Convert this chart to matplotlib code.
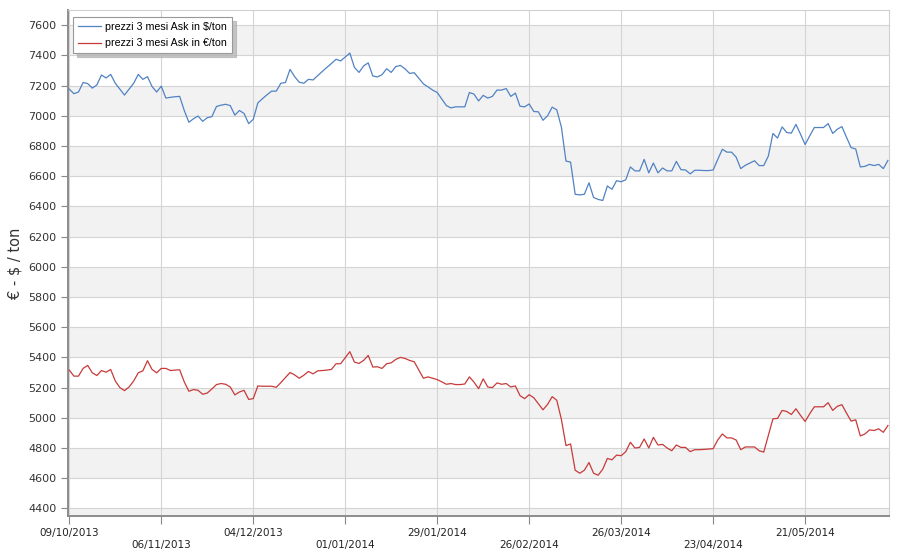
import matplotlib
matplotlib.use('Agg')
import matplotlib.pyplot as plt
import numpy as np
import pandas as pd

# prezzi 3 mesi Ask, one value per working day from 09/10/2013
usd = [7176, 7146, 7157, 7220, 7213, 7183, 7204, 7270, 7250, 7274, 7215, 7176, 7137, 7176, 7215, 7274, 7241, 7259, 7193, 7157,
       7196, 7117, 7122, 7126, 7128, 7035, 6957, 6980, 6998, 6963, 6987, 6994, 7061, 7070, 7076, 7067, 7004,
       7035, 7015, 6948, 6976, 7085, 7113, 7139, 7163, 7163, 7215, 7220, 7307, 7259, 7222, 7215, 7241, 7237, 7265,
       7293, 7320, 7346, 7374, 7363, 7389, 7415, 7320, 7287, 7330, 7350, 7263, 7257, 7272, 7311, 7287, 7326,
       7333, 7311, 7280, 7285, 7248, 7211, 7191, 7170, 7154, 7111, 7067, 7052, 7059, 7059, 7059, 7154, 7143, 7098,
       7135, 7117, 7128, 7170, 7170, 7180, 7128, 7150, 7063, 7059, 7078, 7028, 7026, 6970, 7000, 7057, 7039, 6925,
       6700, 6693, 6480, 6476, 6480, 6556, 6459, 6446, 6439, 6535, 6513, 6570, 6563, 6576, 6661, 6635, 6635, 6711,
       6622, 6687, 6622, 6654, 6635, 6635, 6698, 6643, 6641, 6615, 6639, 6639, 6637, 6637, 6641, 6711, 6778, 6759,
       6759, 6726, 6650, 6672, 6687, 6702, 6670, 6670, 6733, 6883, 6852, 6926, 6889, 6885, 6943, 6878, 6809, 6867,
       6922, 6922, 6922, 6948, 6883, 6911, 6928, 6857, 6789, 6780, 6661, 6665, 6678, 6670, 6678, 6650, 6704]

eur = [5316, 5276, 5276, 5327, 5347, 5298, 5280, 5313, 5302, 5320, 5244, 5200, 5180, 5204, 5244, 5298, 5311, 5378, 5320, 5298,
       5327, 5327, 5313, 5316, 5318, 5238, 5176, 5187, 5182, 5156, 5164, 5191, 5220, 5227, 5222, 5204, 5152,
       5171, 5182, 5122, 5127, 5211, 5209, 5209, 5209, 5202, 5233, 5267, 5300, 5284, 5262, 5282, 5307, 5291, 5311,
       5313, 5316, 5320, 5358, 5358, 5398, 5438, 5369, 5360, 5380, 5413, 5336, 5338, 5327, 5358, 5364, 5387,
       5400, 5393, 5380, 5371, 5316, 5262, 5271, 5262, 5253, 5238, 5222, 5227, 5220, 5220, 5224, 5271, 5236, 5193,
       5258, 5204, 5200, 5231, 5222, 5227, 5204, 5211, 5147, 5127, 5153, 5133, 5093, 5053, 5089, 5140, 5116, 4990,
       4816, 4827, 4653, 4633, 4653, 4704, 4633, 4620, 4660, 4731, 4722, 4753, 4749, 4776, 4838, 4800, 4804, 4860,
       4800, 4871, 4820, 4824, 4800, 4782, 4820, 4804, 4804, 4776, 4789, 4789, 4791, 4793, 4796, 4853, 4893, 4867,
       4867, 4853, 4789, 4807, 4807, 4807, 4782, 4773, 4882, 4993, 4996, 5049, 5042, 5022, 5060, 5016, 4976, 5027,
       5073, 5073, 5073, 5100, 5049, 5076, 5087, 5031, 4978, 4987, 4880, 4893, 4920, 4916, 4927, 4904, 4949]

dates = pd.bdate_range('2013-10-09', periods=len(usd))
label_usd = 'prezzi 3 mesi Ask in $/ton'
label_eur = 'prezzi 3 mesi Ask in €/ton'
y_ticks = np.arange(4400, 7601, 200)

plt.rcParams['font.family'] = ['DejaVu Sans']
fig = plt.figure(figsize=(9, 5.6), dpi=100)
ax = fig.add_axes([0.0752, 0.0786, 0.9129, 0.9035])

x = np.arange(len(usd))

# alternating grey bands
for lo in np.arange(4200, 7600, 400):
    ax.axhspan(lo, lo + 200, color='#f2f2f2', zorder=0, lw=0)

ax.plot(x, usd, color='#5082c4', lw=0.9, label=label_usd, zorder=3)
ax.plot(x, eur, color='#c83a3a', lw=0.9, label=label_eur, zorder=3)

ax.set_ylim(4350, 7700)
ax.set_xlim(-0.35, 178.3)
ax.set_yticks(y_ticks)
ax.set_yticklabels([str(v) for v in y_ticks])

xt = x[::20]
xl = []
for k, i in enumerate(xt):
    s = dates[i].strftime('%d/%m/%Y')
    if k % 2 == 1:
        s = '\n' + s
    xl.append(s)
ax.set_xticks(xt)
ax.set_xticklabels(xl)

ax.grid(True, color='#d4d4d4', lw=0.8, zorder=1)
ax.set_axisbelow(True)

ax.tick_params(axis='y', length=5, width=0.8, color='#888888', labelsize=8, labelcolor='#333333', pad=3)
ax.tick_params(axis='x', length=6, width=0.8, color='#888888', labelsize=7.5, labelcolor='#222222', pad=3)

for side in ['top', 'right']:
    ax.spines[side].set_color('#d0d0d0')
    ax.spines[side].set_linewidth(0.8)
ax.spines['left'].set_color('#8c8c8c')
ax.spines['left'].set_linewidth(1.4)
ax.spines['bottom'].set_color('#8c8c8c')
ax.spines['bottom'].set_linewidth(1.4)

ax.set_ylabel('€ - $ / ton', fontsize=10.5, color='#333333')
ax.yaxis.set_label_coords(-0.055, 0.5)

leg = ax.legend(loc='upper left', bbox_to_anchor=(0.0068, 0.986), borderaxespad=0,
                prop={'family': 'Liberation Sans', 'size': 7.7}, frameon=True, fancybox=False,
                shadow={'color': '#b0b0b0', 'alpha': 0.7, 'ox': 3, 'oy': -3},
                handlelength=2.1, handletextpad=0.4, borderpad=0.45, labelspacing=0.6)
leg.get_frame().set_edgecolor('#999999')
leg.get_frame().set_linewidth(0.8)

fig.savefig('out.png', dpi=100)
